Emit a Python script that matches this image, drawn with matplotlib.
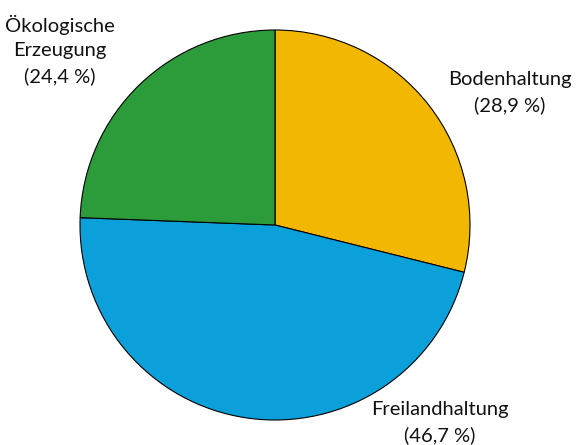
import matplotlib.pyplot as plt

labels = ['Bodenhaltung', 'Freilandhaltung', 'Ökologische\nErzeugung']
shares = [28.9, 46.7, 24.4]
colors = ['#F2B700', '#0BA0DA', '#2C9B3A']
label_pos = [(510, 93), (440, 423), (60, 50)]

fig = plt.figure(figsize=(5.77, 4.45), dpi=100)
ax = fig.add_axes([0, 0, 1, 1])

# pie drawn in pixel space; y axis inverted so go counterclockwise to appear clockwise
ax.pie(shares, colors=colors, center=(275, 225), radius=195, startangle=-90,
       counterclock=True, frame=True,
       wedgeprops=dict(edgecolor='black', linewidth=0.8))
ax.set_xlim(0, 577)
ax.set_ylim(445, 0)
ax.set_aspect('equal')
ax.axis('off')

for lab, val, (x, y) in zip(labels, shares, label_pos):
    txt = f"{lab}\n({val:.1f} %)".replace('.', ',')
    ax.text(x, y, txt, ha='center', va='center', fontsize=14.5, family='Lato',
            linespacing=1.55, color='#111111')

fig.savefig('out.png', dpi=100)
